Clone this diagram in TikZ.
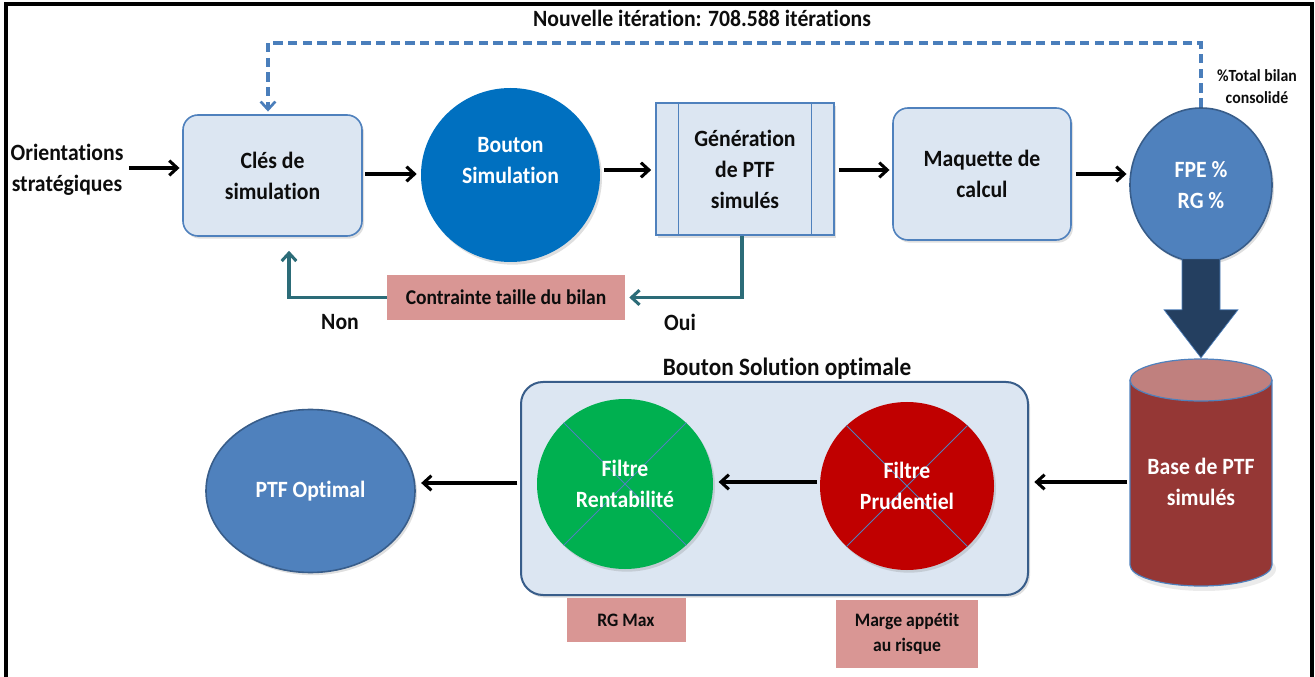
\documentclass[tikz,border=0pt]{standalone}
\usepackage{fontspec}
\setmainfont{Carlito}[FakeStretch=0.93, Ligatures={NoCommon}]
\usetikzlibrary{arrows.meta,shapes.geometric,shadows,calc}
\definecolor{boxfill}{HTML}{DCE6F2}
\definecolor{boxline}{HTML}{4F81BD}
\definecolor{simblue}{HTML}{0070C0}
\definecolor{midblue}{HTML}{4F81BD}
\definecolor{darkline}{HTML}{385D8A}
\definecolor{navy}{HTML}{243F60}
\definecolor{cylbody}{HTML}{953735}
\definecolor{cyltop}{HTML}{C0807E}
\definecolor{redf}{HTML}{C00000}
\definecolor{greenf}{HTML}{00B050}
\definecolor{pinkf}{HTML}{D99694}
\definecolor{teal}{HTML}{2C6C78}
\definecolor{dashblue}{HTML}{4A7EBB}
\newcommand\pxu{0.75pt}
\begin{document}
\begin{tikzpicture}[x=0.75pt,y=-0.75pt,
  every node/.style={font=\bfseries\fontsize{17.5}{23.25}\selectfont, inner sep=0pt, align=center, text=black!95},
  shad/.style={drop shadow={opacity=0.25, shadow xshift=1.5pt, shadow yshift=-2pt}},
  rbox/.style={draw=boxline, fill=boxfill, rounded corners=15*\pxu, line width=1.2pt, shad},
  gbox/.style={draw=boxline, fill=boxfill, line width=1.2pt, shad},
  pinkbox/.style={fill=pinkf},
  oval/.style={ellipse, shad},
  wtext/.style={text=white},
  arr/.style={line width=2.3pt, -{Straight Barb[length=6pt,width=11pt]}},
  tarr/.style={draw=teal, line width=2.3pt, -{Straight Barb[length=6pt,width=11pt]}},
  dasharr/.style={draw=dashblue, line width=2.6pt, dash pattern=on 7pt off 4pt, -{Straight Barb[length=6pt,width=11pt,line width=2pt]}},
  crossline/.style={draw=midblue, line width=0.7pt}
]
\useasboundingbox (0,0) rectangle (1315,677);
% frame
\draw[line width=2.5pt] (6,677) -- (6,4) -- (1312,4) -- (1312,677);

% reference levels
\coordinate (ydash) at (0,43);
\coordinate (yA) at (0,168);
\coordinate (yB) at (0,174);
\coordinate (yC) at (0,170);
\coordinate (yD) at (0,482);
\coordinate (yE) at (0,483);
\coordinate (xdash) at (268,0);

% title
\node (title) at (702,18) {Nouvelle itération: 708.588 itérations};

% top row
\node (orient) at (67,170) {Orientations\\stratégiques};
\node[rbox, minimum width=179*\pxu, minimum height=121*\pxu] (cles) at (272.5,175.5) {Clés de\\simulation};
\node[oval, fill=simblue, minimum width=179*\pxu, minimum height=174*\pxu] (bouton) at (510.5,175) {};
\node[wtext] (boutontxt) at (510.5,161) {Bouton\\Simulation};
\node[gbox, minimum width=178*\pxu, minimum height=132*\pxu] (gen) at (745,169) {Génération\\de PTF\\simulés};
\draw[boxline, line width=1pt] ([xshift=23*\pxu]gen.north west) -- ([xshift=23*\pxu]gen.south west);
\draw[boxline, line width=1pt] ([xshift=-23*\pxu]gen.north east) -- ([xshift=-23*\pxu]gen.south east);
\node[rbox, minimum width=178*\pxu, minimum height=132*\pxu] (maq) at (982,174) {Maquette de\\calcul};
\node[oval, fill=midblue, draw=darkline, line width=1.2pt, minimum width=142*\pxu, minimum height=154*\pxu, wtext] (fpe) at (1201,185) {FPE \%\\RG \%};
\node[font=\bfseries\fontsize{12.75}{16.5}\selectfont] (tot) at (1257,87) {\%Total bilan\\consolidé};

\draw[arr] ([xshift=4pt]orient.east |- yA) -- ([xshift=-2pt]cles.west |- yA);
\draw[arr] ([xshift=2pt]cles.east |- yB) -- ([xshift=-3pt]bouton.west |- yB);
\draw[arr] ([xshift=3pt]bouton.east |- yC) -- ([xshift=-3pt]gen.west |- yC);
\draw[arr] ([xshift=3pt]gen.east |- yC) -- ([xshift=-2pt]maq.west |- yC);
\draw[arr] ([xshift=3pt]maq.east |- yB) -- ([xshift=-2pt]fpe.west |- yB);

% dashed iteration loop
\draw[dasharr] (fpe.north) -- (fpe.north |- ydash) -- (xdash |- ydash) -- ([yshift=2pt]xdash |- cles.north);

% constraint loop
\node[pinkbox, minimum width=238*\pxu, minimum height=45*\pxu] (contr) at (506,297.5) {\fontsize{15.75}{20}\selectfont Contrainte taille du bilan};
\draw[tarr] ($(gen.south)+(-3,0)$) |- ([xshift=3pt]contr.east);
\coordinate (nonend) at ($(cles.south)+(16.5,14)$);
\draw[tarr] (contr.west) -| (nonend);
\node (non) at (340,322) {Non};
\node (oui) at (680,322) {Oui};

% big arrow
\filldraw[fill=navy, draw=midblue, line width=0.5pt]
  ($(fpe.south)+(-19,-4)$) -- ($(fpe.south)+(19,-4)$) -- ($(fpe.south)+(19,47)$) -- ($(fpe.south)+(37,47)$)
  -- ($(fpe.south)+(0,95)$) -- ($(fpe.south)+(-37,47)$) -- ($(fpe.south)+(-19,47)$) -- cycle;

% cylinder
\fill[black, opacity=0.08] (1204,569) ellipse [x radius=72*\pxu, y radius=22*\pxu];
\fill[cylbody] (1130,380) rectangle (1272,565);
\fill[cylbody] (1201,565) ellipse [x radius=71*\pxu, y radius=21*\pxu];
\draw[boxline, line width=0.9pt] (1130,380) -- (1130,565) arc[start angle=180, end angle=360, x radius=71*\pxu, y radius=21*\pxu] -- (1272,380);
\filldraw[fill=cyltop, draw=boxline, line width=0.9pt] (1201,380) ellipse [x radius=71*\pxu, y radius=21*\pxu];
\node[wtext, minimum width=142*\pxu] (base) at (1201,482) {Base de PTF\\simulés};

% optimal solution container
\node[draw=darkline, fill=boxfill, rounded corners=22*\pxu, line width=1.5pt, minimum width=507*\pxu, minimum height=213*\pxu, shad] (cont) at (774.5,488.5) {};
\node[font=\bfseries\fontsize{18.75}{23}\selectfont] (conttitle) at (787,369) {Bouton Solution optimale};

\node[oval, fill=redf, minimum width=174*\pxu, minimum height=168*\pxu] (prud) at (907,486) {};
\draw[crossline] (prud.45) -- (prud.225);
\draw[crossline] (prud.135) -- (prud.315);
\node[wtext] (prudtxt) at (907,486) {Filtre\\Prudentiel};

\node[oval, fill=greenf, minimum width=176*\pxu, minimum height=170*\pxu] (rent) at (625,484) {};
\draw[crossline] (rent.45) -- (rent.225);
\draw[crossline] (rent.135) -- (rent.315);
\node[wtext] (renttxt) at (625,484) {Filtre\\Rentabilité};

\node[oval, fill=midblue, draw=darkline, line width=1.2pt, minimum width=209*\pxu, minimum height=163*\pxu, wtext] (ptf) at (310.5,491) {PTF Optimal};

\draw[arr] ([xshift=-2pt]base.west) -- ([xshift=4pt]base.west -| cont.east);
\draw[arr] ([xshift=-2pt]prud.west |- yD) -- ([xshift=4pt]rent.east |- yD);
\draw[arr] ([xshift=-2pt]cont.west |- yE) -- ([xshift=4pt]ptf.east |- yE);

% criteria boxes
\node[pinkbox, minimum width=119*\pxu, minimum height=44*\pxu, font=\bfseries\fontsize{14.25}{19}\selectfont] (rgmax) at (626,620) {RG Max};
\node[pinkbox, minimum width=142*\pxu, minimum height=68*\pxu, font=\bfseries\fontsize{14.25}{19}\selectfont] (marge) at (907,634) {Marge appétit\\au risque};
\end{tikzpicture}
\end{document}
